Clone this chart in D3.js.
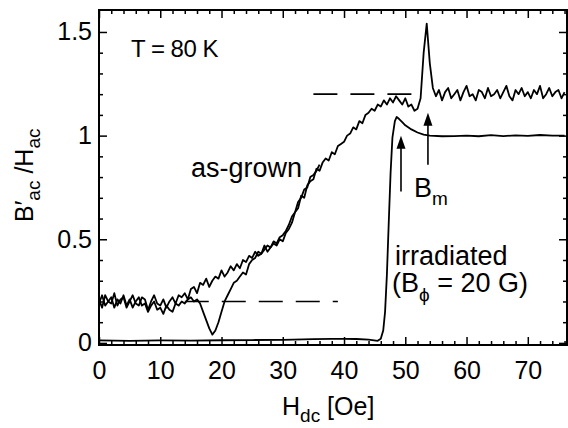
<!DOCTYPE html>
<html>
<head>
<meta charset="utf-8">
<script src="https://cdn.jsdelivr.net/npm/d3@7"></script>
<style>
  body { margin: 0; background: #fff; }
  svg { display: block; }
  text { font-family: "Liberation Sans", Arial, Helvetica, sans-serif; fill: #000; }
  .tick text { font-size: 25px; }
  .tick line { stroke: #000; stroke-width: 1.5; }
</style>
</head>
<body>
<div id="chart"></div>
<script>
// as-grown, main branch, H = 0 .. 76 in steps of 0.5 Oe
const grownStep = 0.5;
const grownA = [
  0.21,0.17,0.23,0.20,0.19,0.24,0.18,0.21,0.22,0.17,
  0.20,0.23,0.19,0.18,0.22,0.21,0.16,0.20,0.23,0.19,
  0.18,0.21,0.17,0.20,0.22,0.19,0.23,0.22,0.24,0.21,
  0.26,0.27,0.24,0.29,0.28,0.31,0.27,0.30,0.32,0.31,
  0.35,0.32,0.34,0.37,0.35,0.38,0.36,0.40,0.39,0.42,
  0.41,0.44,0.42,0.43,0.47,0.44,0.46,0.48,0.47,0.50,
  0.49,0.53,0.55,0.58,0.63,0.65,0.71,0.70,0.76,0.78,
  0.79,0.84,0.83,0.87,0.89,0.88,0.92,0.91,0.95,0.96,
  0.97,1.00,1.01,1.04,1.03,1.07,1.06,1.10,1.11,1.13,
  1.12,1.15,1.14,1.17,1.15,1.18,1.16,1.19,1.17,1.15,
  1.18,1.14,1.15,1.12,1.13,1.18,1.40,1.54,1.35,1.23,
  1.19,1.22,1.17,1.21,1.23,1.18,1.20,1.22,1.17,1.21,
  1.24,1.19,1.20,1.17,1.22,1.21,1.18,1.23,1.19,1.20,
  1.22,1.18,1.21,1.24,1.19,1.17,1.22,1.20,1.23,1.19,
  1.21,1.18,1.22,1.20,1.24,1.18,1.20,1.23,1.19,1.21,
  1.22,1.18,1.21
];

// as-grown, second branch with the dip, H = 0 .. 36
const grownB = [
  0.19,0.23,0.18,0.20,0.22,0.17,0.21,0.19,0.23,0.18,
  0.21,0.17,0.20,0.22,0.18,0.19,0.15,0.18,0.20,0.16,
  0.17,0.14,0.18,0.16,0.15,0.19,0.18,0.20,0.19,0.21,
  0.22,0.20,0.21,0.19,0.15,0.11,0.07,0.04,0.06,0.10,
  0.15,0.20,0.23,0.26,0.29,0.30,0.32,0.34,0.33,0.38,
  0.40,0.41,0.44,0.43,0.45,0.47,0.46,0.49,0.48,0.51,
  0.52,0.54,0.57,0.61,0.63,0.68,0.70,0.74,0.75,0.80,
  0.81,0.83,0.86
];

// irradiated sample
const irrH = [0, 5, 10, 15, 20, 25, 30, 35, 38, 40, 42, 44, 45.5, 46, 46.4, 46.7, 47, 47.3, 47.6, 47.9,
              48.3, 48.6, 49, 49.5, 50, 51, 52, 53, 54, 56, 58, 60, 62, 64, 66, 68, 70, 72, 74, 76];
const irrV = [0.012, 0.010, 0.012, 0.011, 0.013, 0.014, 0.015, 0.018, 0.020, 0.020, 0.019, 0.016, 0.010, 0.02, 0.06,
              0.15, 0.33, 0.58, 0.82, 0.99, 1.07, 1.09, 1.08, 1.065, 1.05, 1.03, 1.015, 1.005, 1.0, 0.997,
              0.998, 1.0, 0.997, 1.002, 0.998, 1.001, 0.999, 1.003, 1.0, 1.0];

// dashed reference levels
const dashLevel = [0.2, 1.2];
const dashFrom = [14, 35];
const dashTo = [39, 52];

// arrows (H position, tail, head)
const arrowH = [49.3, 53.7];
const arrowFrom = [0.73, 0.86];
const arrowTo = [1.0, 1.11];

const xTicks = [0, 10, 20, 30, 40, 50, 60, 70];
const yTicks = [0, 0.5, 1, 1.5];
const yTickLabels = ['0', '0.5', '1', '1.5'];

const W = 568, H = 428;

const x = d3.scaleLinear().domain([0, 76.4]).range([99, 567]);
const y = d3.scaleLinear().domain([-0.01, 1.606]).range([345, 10]);

const svg = d3.select('#chart').append('svg')
    .attr('width', W)
    .attr('height', H);

const xMinor = d3.range(0, 77, 2).filter(d => d % 10 !== 0);
const yMinor = d3.range(0, 16).map(d => d / 10).filter(d => (d * 10) % 5 !== 0);

function axisGroup(axis, tr) {
  const g = svg.append('g').attr('transform', tr).call(axis);
  g.select('.domain').remove();
  return g;
}

// major + minor ticks, inward on all four sides
axisGroup(d3.axisBottom(x).tickValues(xTicks).tickSize(-8).tickPadding(16), `translate(0,${y.range()[0]})`);
axisGroup(d3.axisBottom(x).tickValues(xMinor).tickSize(-4).tickFormat(''), `translate(0,${y.range()[0]})`);
axisGroup(d3.axisTop(x).tickValues(xTicks).tickSize(-8).tickFormat(''), `translate(0,${y.range()[1]})`);
axisGroup(d3.axisTop(x).tickValues(xMinor).tickSize(-4).tickFormat(''), `translate(0,${y.range()[1]})`);
axisGroup(d3.axisLeft(y).tickValues(yTicks).tickSize(-8).tickPadding(7).tickFormat((d, i) => yTickLabels[i]), `translate(${x.range()[0]},0)`);
axisGroup(d3.axisLeft(y).tickValues(yMinor).tickSize(-4).tickFormat(''), `translate(${x.range()[0]},0)`);
axisGroup(d3.axisRight(y).tickValues(yTicks).tickSize(-8).tickFormat(''), `translate(${x.range()[1]},0)`);
axisGroup(d3.axisRight(y).tickValues(yMinor).tickSize(-4).tickFormat(''), `translate(${x.range()[1]},0)`);

// frame
svg.append('rect')
    .attr('x', x.range()[0])
    .attr('y', y.range()[1])
    .attr('width', x.range()[1] - x.range()[0])
    .attr('height', y.range()[0] - y.range()[1])
    .attr('fill', 'none')
    .attr('stroke', '#000')
    .attr('stroke-width', 2);

const line = d3.line().x(d => x(d[0])).y(d => y(d[1]));

// dashed levels
svg.selectAll('.dash')
  .data(dashLevel)
  .join('line')
    .attr('x1', (d, i) => x(dashFrom[i]))
    .attr('x2', (d, i) => x(dashTo[i]))
    .attr('y1', d => y(d))
    .attr('y2', d => y(d))
    .attr('stroke', '#000')
    .attr('stroke-width', 1.6)
    .attr('stroke-dasharray', '24,13');

const curves = [
  grownA.map((v, i) => [i * grownStep, v]),
  grownB.map((v, i) => [i * grownStep, v]),
  irrH.map((h, i) => [h, irrV[i]])
];

svg.selectAll('.curve')
  .data(curves)
  .join('path')
    .attr('class', 'curve')
    .attr('d', line)
    .attr('fill', 'none')
    .attr('stroke', '#000')
    .attr('stroke-width', 1.8)
    .attr('stroke-linejoin', 'round');

// arrows
const arrows = svg.selectAll('.arrow')
  .data(arrowH)
  .join('g')
    .attr('class', 'arrow');

arrows.append('line')
    .attr('x1', d => x(d))
    .attr('x2', d => x(d))
    .attr('y1', (d, i) => y(arrowFrom[i]))
    .attr('y2', (d, i) => y(arrowTo[i]) + 10)
    .attr('stroke', '#000')
    .attr('stroke-width', 1.6);

arrows.append('path')
    .attr('d', (d, i) => {
      const px = x(d), py = y(arrowTo[i]);
      return `M${px},${py} L${px - 4.5},${py + 13} L${px + 4.5},${py + 13} Z`;
    })
    .attr('fill', '#000');

// annotations
svg.append('text')
    .attr('x', 131)
    .attr('y', 57)
    .attr('font-size', 24)
    .attr('letter-spacing', -0.5)
    .text('T = 80 K');

svg.append('text')
    .attr('x', 191)
    .attr('y', 177)
    .attr('font-size', 27)
    .text('as-grown');

const bm = svg.append('text')
    .attr('x', 414)
    .attr('y', 197)
    .attr('font-size', 27);
bm.append('tspan').text('B');
bm.append('tspan').attr('dy', 8).attr('font-size', 19).text('m');

svg.append('text')
    .attr('x', 395)
    .attr('y', 265)
    .attr('font-size', 27)
    .text('irradiated');

const bphi = svg.append('text')
    .attr('x', 392)
    .attr('y', 292)
    .attr('font-size', 27);
bphi.append('tspan').text('(B');
bphi.append('tspan').attr('dy', 9).attr('font-size', 19).text('\u03d5');
bphi.append('tspan').attr('dy', -9).text(' = 20 G)');

// axis titles
const xt = svg.append('text')
    .attr('x', 282)
    .attr('y', 415)
    .attr('font-size', 25);
xt.append('tspan').text('H');
xt.append('tspan').attr('dy', 7).attr('font-size', 19).text('dc');
xt.append('tspan').attr('dy', -7).text(' [Oe]');

const yt = svg.append('text')
    .attr('transform', 'translate(33,222) rotate(-90)')
    .attr('font-size', 25);
yt.append('tspan').text('B\u2032');
yt.append('tspan').attr('dy', 7).attr('font-size', 19).text('ac');
yt.append('tspan').attr('dy', -7).text(' /H');
yt.append('tspan').attr('dy', 7).attr('font-size', 19).text('ac');
</script>
</body>
</html>
